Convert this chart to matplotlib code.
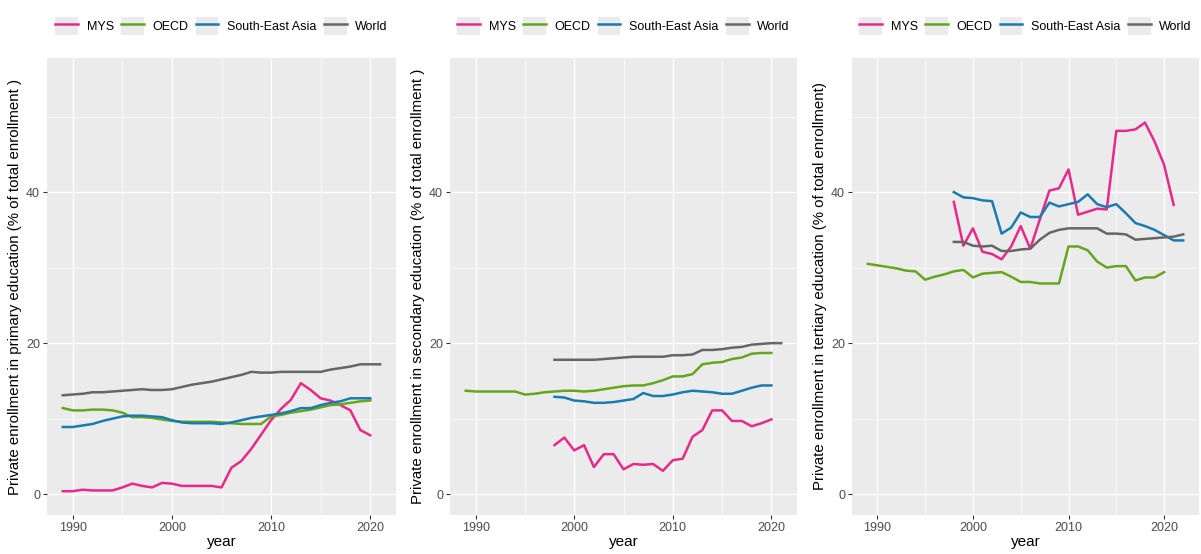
import matplotlib
matplotlib.use("Agg")
import matplotlib.pyplot as plt
from matplotlib.patches import Rectangle
from matplotlib.lines import Line2D
from matplotlib.legend_handler import HandlerTuple
from matplotlib.ticker import MultipleLocator

plt.rcParams['font.family'] = ['Liberation Sans', 'DejaVu Sans']

groups = ["MYS", "OECD", "South-East Asia", "World"]
colores = {"MYS": "#E7298A", "OECD": "#66A61E", "South-East Asia": "#1A7BB0", "World": "#666666"}

# primary education
prim_mys = [0.4, 0.4, 0.6, 0.5, 0.5, 0.5, 0.9, 1.4, 1.1, 0.9,
            1.5, 1.4, 1.1, 1.1, 1.1, 1.1, 0.9, 3.5, 4.4, 6.0,
            7.9, 9.8, 11.3, 12.5, 14.7, 13.8, 12.7, 12.4, 11.8, 11.1, 8.5, 7.8]
prim_oecd = [11.4, 11.1, 11.1, 11.2, 11.2, 11.1, 10.8, 10.2, 10.2, 10.1,
             9.9, 9.7, 9.6, 9.6, 9.6, 9.6, 9.5, 9.4, 9.3, 9.3,
             9.3, 10.3, 10.5, 10.8, 11.0, 11.2, 11.5, 11.8, 11.9, 12.1, 12.3, 12.4]
prim_sea = [8.9, 8.9, 9.1, 9.3, 9.7, 10.0, 10.3, 10.4, 10.4, 10.3,
            10.2, 9.8, 9.5, 9.4, 9.4, 9.4, 9.3, 9.5, 9.8, 10.1,
            10.3, 10.5, 10.7, 11.0, 11.4, 11.4, 11.8, 12.1, 12.3, 12.7, 12.7, 12.7]
prim_world = [13.1, 13.2, 13.3, 13.5, 13.5, 13.6, 13.7, 13.8, 13.9, 13.8,
              13.8, 13.9, 14.2, 14.5, 14.7, 14.9, 15.2, 15.5, 15.8, 16.2,
              16.1, 16.1, 16.2, 16.2, 16.2, 16.2, 16.2, 16.5, 16.7, 16.9, 17.2, 17.2, 17.2]

# secondary education
sec_mys = [6.5, 7.5, 5.8, 6.5, 3.6, 5.3, 5.3, 3.3, 4.0, 3.9,
           4.0, 3.1, 4.5, 4.7, 7.6, 8.5, 11.1, 11.1, 9.7, 9.7,
           9.0, 9.4, 9.9]
sec_oecd = [13.7, 13.6, 13.6, 13.6, 13.6, 13.6, 13.2, 13.3, 13.5, 13.6,
            13.7, 13.7, 13.6, 13.7, 13.9, 14.1, 14.3, 14.4, 14.4, 14.7,
            15.1, 15.6, 15.6, 15.9, 17.2, 17.4, 17.5, 17.9, 18.1, 18.6, 18.7, 18.7]
sec_sea = [12.9, 12.8, 12.4, 12.3, 12.1, 12.1, 12.2, 12.4, 12.6, 13.4,
           13.0, 13.0, 13.2, 13.5, 13.7, 13.6, 13.5, 13.3, 13.3, 13.7,
           14.1, 14.4, 14.4]
sec_world = [17.8, 17.8, 17.8, 17.8, 17.8, 17.9, 18.0, 18.1, 18.2, 18.2,
             18.2, 18.2, 18.4, 18.4, 18.5, 19.1, 19.1, 19.2, 19.4, 19.5,
             19.8, 19.9, 20.0, 20.0]

# tertiary education
ter_mys = [38.7, 32.9, 35.2, 32.1, 31.8, 31.1, 32.8, 35.5, 32.5, 36.4,
           40.2, 40.5, 43.0, 37.0, 37.4, 37.8, 37.7, 48.1, 48.1, 48.3,
           49.2, 46.7, 43.6, 38.3]
ter_oecd = [30.5, 30.3, 30.1, 29.9, 29.6, 29.5, 28.4, 28.8, 29.1, 29.5,
            29.7, 28.7, 29.2, 29.3, 29.4, 28.8, 28.1, 28.1, 27.9, 27.9,
            27.9, 32.8, 32.8, 32.3, 30.8, 30.0, 30.2, 30.2, 28.3, 28.7, 28.7, 29.4]
ter_sea = [40.0, 39.3, 39.2, 38.9, 38.8, 34.5, 35.3, 37.3, 36.7, 36.7,
           38.6, 38.1, 38.4, 38.7, 39.7, 38.4, 38.0, 38.4, 37.2, 35.9,
           35.5, 35.0, 34.3, 33.6, 33.6]
ter_world = [33.4, 33.4, 32.9, 32.8, 32.9, 32.2, 32.2, 32.4, 32.5, 33.7,
             34.6, 35.0, 35.2, 35.2, 35.2, 35.2, 34.5, 34.5, 34.4, 33.7,
             33.8, 33.9, 34.0, 34.1, 34.4]

paneles = [
    {"ylabel": "Private enrollment in primary education (% of total enrollment )",
     "series": {"MYS": (1989, prim_mys), "OECD": (1989, prim_oecd),
                "South-East Asia": (1989, prim_sea), "World": (1989, prim_world)}},
    {"ylabel": "Private enrollment in secondary education (% of total enrollment )",
     "series": {"MYS": (1998, sec_mys), "OECD": (1989, sec_oecd),
                "South-East Asia": (1998, sec_sea), "World": (1998, sec_world)}},
    {"ylabel": "Private enrollment in tertiary education (% of total enrollment)",
     "series": {"MYS": (1998, ter_mys), "OECD": (1989, ter_oecd),
                "South-East Asia": (1998, ter_sea), "World": (1998, ter_world)}},
]

fig = plt.figure(figsize=(12.01, 5.54), dpi=100)
izquierdas = [47, 450, 852]
anchos = [349, 347, 347]

for i, panel in enumerate(paneles):
    ax = fig.add_axes([izquierdas[i] / 1201, 39 / 554, anchos[i] / 1201, 457 / 554])
    ax.set_facecolor("#EBEBEB")
    for s in ax.spines.values():
        s.set_visible(False)

    xmin, xmax = 1e9, -1e9
    for g in groups:
        inicio, vals = panel["series"][g]
        anios = list(range(inicio, inicio + len(vals)))
        xmin, xmax = min(xmin, anios[0]), max(xmax, anios[-1])
        ax.plot(anios, vals, color=colores[g], lw=1.8, solid_joinstyle="round", zorder=3)

    pad = 0.05 * (xmax - xmin)
    ax.set_xlim(xmin - pad, xmax + pad)
    ax.set_ylim(-2.75, 57.75)

    ax.xaxis.set_major_locator(MultipleLocator(10))
    ax.xaxis.set_minor_locator(MultipleLocator(5))
    ax.yaxis.set_major_locator(MultipleLocator(20))
    ax.yaxis.set_minor_locator(MultipleLocator(10))
    ax.grid(which="major", color="white", lw=1.0, zorder=0)
    ax.grid(which="minor", color="white", lw=0.5, zorder=0)
    ax.set_axisbelow(True)
    ax.tick_params(which="major", length=3, width=0.8, color="#333333",
                   labelsize=9, labelcolor="#4D4D4D", pad=2)
    ax.tick_params(which="minor", length=0)

    ax.set_xlabel("year", fontsize=11, labelpad=1)
    ax.set_ylabel(panel["ylabel"], fontsize=10.8, labelpad=3)

    handles = [(Rectangle((0, 0), 1, 1, facecolor="#EBEBEB", edgecolor="none"),
                Line2D([], [], color=colores[g], lw=1.8)) for g in groups]
    ax.legend(handles, groups, loc="center", bbox_to_anchor=(0.5, 1.07), ncol=4,
              frameon=False, fontsize=9, handlelength=1.8, handleheight=1.8,
              handletextpad=0.7, columnspacing=0.6, borderaxespad=0,
              handler_map={tuple: HandlerTuple(ndivide=1)})

fig.savefig("out.png", dpi=100)
